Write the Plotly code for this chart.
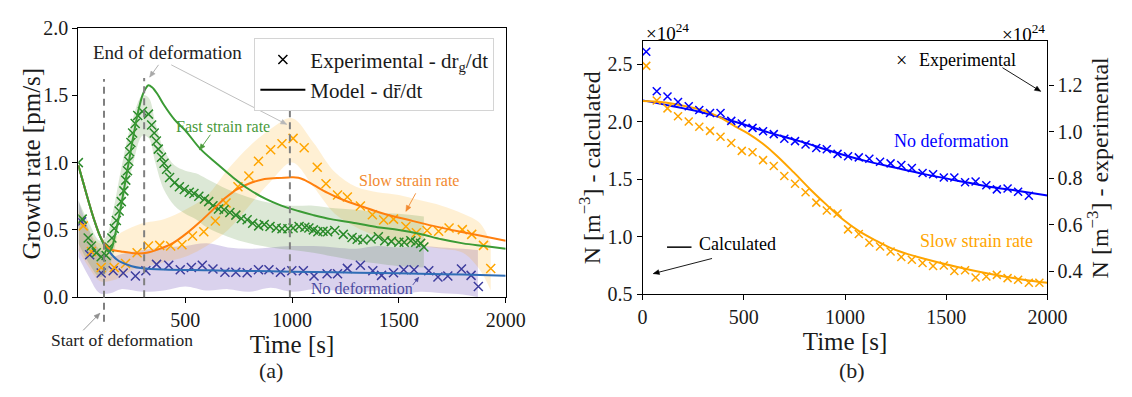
import math
import plotly.graph_objects as go

W, H = 1132, 397
FONT = "Liberation Serif"

# ------------------------- (a) growth rate -------------------------
fast_exp_t = [0, 18, 46, 61, 84, 107, 130, 145, 157, 168, 178, 191, 201, 213, 222, 230, 236, 240,
              246, 254, 266, 278, 300, 328, 343, 355, 365, 374, 389, 401, 413, 427, 450, 473, 496,
              519, 541, 564, 590, 610, 630, 656, 682, 709, 737, 763, 790, 816, 844, 870, 897, 926,
              953, 981, 1005, 1033, 1060, 1079, 1100, 1121, 1145, 1167, 1200, 1240, 1281, 1305,
              1332, 1370, 1404, 1434, 1465, 1500, 1525, 1556, 1579, 1602, 1617]
fast_exp_v = [1.00, 0.58, 0.44, 0.38, 0.33, 0.30, 0.31, 0.37, 0.44, 0.51, 0.57, 0.64, 0.71, 0.79,
              0.87, 0.94, 1.01, 1.08, 1.15, 1.22, 1.29, 1.35, 1.38, 1.36, 1.28, 1.22, 1.16, 1.10,
              1.04, 0.995, 0.95, 0.89, 0.85, 0.82, 0.80, 0.78, 0.77, 0.75, 0.73, 0.71, 0.68, 0.655,
              0.65, 0.63, 0.61, 0.585, 0.575, 0.55, 0.53, 0.54, 0.526, 0.514, 0.509, 0.509, 0.514,
              0.526, 0.52, 0.514, 0.50, 0.486, 0.49, 0.486, 0.495, 0.467, 0.444, 0.43, 0.425, 0.432,
              0.449, 0.42, 0.415, 0.408, 0.408, 0.42, 0.408, 0.40, 0.373]

slow_exp_t = [23, 61, 107, 168, 221, 275, 328, 381, 432, 485, 534, 587, 641, 691, 747, 798, 843,
              900, 953, 1005, 1057, 1118, 1159, 1213, 1259, 1320, 1376, 1429, 1475, 1533, 1582,
              1632, 1686, 1735, 1797, 1841, 1896, 1930]
slow_exp_v = [0.53, 0.34, 0.22, 0.22, 0.25, 0.33, 0.38, 0.385, 0.38, 0.39, 0.455, 0.486, 0.566,
              0.70, 0.82, 0.90, 1.01, 1.096, 1.14, 1.18, 1.11, 0.965, 0.843, 0.76, 0.744, 0.678,
              0.613, 0.573, 0.58, 0.526, 0.479, 0.495, 0.49, 0.514, 0.502, 0.467, 0.385, 0.213]

nodef_exp_t = [15, 53, 107, 163, 210, 267, 316, 366, 423, 477, 529, 580, 630, 686, 737, 790, 843,
               892, 946, 999, 1053, 1103, 1164, 1213, 1259, 1320, 1378, 1419, 1475, 1523, 1571,
               1640, 1683, 1729, 1793, 1838, 1872]
nodef_exp_v = [0.56, 0.315, 0.18, 0.197, 0.18, 0.157, 0.197, 0.244, 0.237, 0.204, 0.22, 0.237,
               0.209, 0.185, 0.185, 0.181, 0.204, 0.204, 0.185, 0.197, 0.197, 0.157, 0.174, 0.174,
               0.214, 0.237, 0.197, 0.162, 0.181, 0.204, 0.204, 0.197, 0.15, 0.157, 0.209, 0.162,
               0.08]

fast_mod_t = [0, 25, 50, 75, 100, 120, 140, 155, 170, 185, 200, 220, 240, 260, 280, 300, 315, 328,
              345, 370, 400, 450, 500, 572, 650, 724, 800, 877, 950, 1030, 1100, 1182, 1300, 1400,
              1500, 1600, 1700, 1800, 1900, 2000]
fast_mod_v = [0.98, 0.84, 0.70, 0.57, 0.46, 0.39, 0.34, 0.36, 0.45, 0.56, 0.68, 0.86, 1.04, 1.22,
              1.38, 1.50, 1.55, 1.575, 1.56, 1.51, 1.43, 1.32, 1.24, 1.10, 0.99, 0.89, 0.80, 0.73,
              0.68, 0.64, 0.61, 0.58, 0.55, 0.52, 0.50, 0.47, 0.43, 0.40, 0.38, 0.36]

slow_mod_t = [0, 25, 50, 75, 100, 125, 150, 200, 267, 320, 374, 440, 511, 570, 633, 690, 740, 800,
              862, 930, 984, 1030, 1060, 1100, 1167, 1243, 1320, 1430, 1548, 1660, 1777, 1890, 2000]
slow_mod_v = [0.98, 0.84, 0.70, 0.57, 0.46, 0.39, 0.355, 0.34, 0.326, 0.33, 0.355, 0.40, 0.48,
              0.56, 0.655, 0.74, 0.80, 0.845, 0.875, 0.885, 0.89, 0.888, 0.87, 0.835, 0.775, 0.72,
              0.678, 0.62, 0.573, 0.53, 0.49, 0.455, 0.42]

nodef_mod_t = [0, 25, 50, 75, 100, 120, 140, 160, 180, 200, 250, 300, 400, 600, 800, 1000, 1200,
               1400, 1600, 1800, 2000]
nodef_mod_v = [0.98, 0.84, 0.70, 0.57, 0.46, 0.40, 0.35, 0.31, 0.28, 0.26, 0.23, 0.215, 0.205,
               0.20, 0.195, 0.19, 0.185, 0.18, 0.175, 0.168, 0.16]

fast_band_t = [0, 50, 100, 130, 160, 200, 250, 300, 330, 360, 400, 450, 500, 550, 600, 700, 800,
               900, 1000, 1100, 1200, 1300, 1400, 1500, 1617]
fast_band_hi = [0.72, 0.55, 0.42, 0.45, 0.62, 0.95, 1.30, 1.50, 1.48, 1.30, 1.10, 0.98, 0.94,
                0.92, 0.88, 0.80, 0.74, 0.70, 0.68, 0.68, 0.66, 0.65, 0.63, 0.62, 0.60]
fast_band_lo = [0.40, 0.25, 0.15, 0.18, 0.30, 0.62, 0.95, 1.20, 1.18, 1.00, 0.80, 0.68, 0.62,
                0.58, 0.52, 0.45, 0.40, 0.37, 0.35, 0.33, 0.30, 0.27, 0.25, 0.23, 0.22]

slow_band_t = [0, 50, 100, 150, 200, 250, 300, 400, 500, 600, 700, 800, 900, 1000, 1100, 1200,
               1300, 1400, 1500, 1600, 1700, 1800, 1880, 1930]
slow_band_hi = [0.65, 0.50, 0.40, 0.42, 0.48, 0.52, 0.55, 0.58, 0.65, 0.75, 0.95, 1.12, 1.25,
                1.33, 1.15, 0.93, 0.82, 0.78, 0.76, 0.72, 0.68, 0.62, 0.55, 0.40]
slow_band_lo = [0.35, 0.22, 0.12, 0.12, 0.15, 0.20, 0.22, 0.26, 0.30, 0.38, 0.50, 0.68, 0.86,
                1.00, 0.82, 0.62, 0.52, 0.45, 0.40, 0.38, 0.36, 0.33, 0.20, 0.05]

nodef_band_t = [0, 50, 100, 150, 200, 300, 400, 500, 600, 700, 800, 900, 1000, 1100, 1200, 1300,
                1400, 1500, 1600, 1700, 1800, 1870]
nodef_band_hi = [0.72, 0.50, 0.35, 0.30, 0.32, 0.35, 0.37, 0.38, 0.40, 0.37, 0.36, 0.37, 0.38,
                 0.38, 0.37, 0.36, 0.38, 0.37, 0.38, 0.37, 0.36, 0.35]
nodef_band_lo = [0.30, 0.15, 0.03, 0.03, 0.06, 0.04, 0.05, 0.08, 0.05, 0.06, 0.04, 0.07, 0.04,
                 0.06, 0.05, 0.03, 0.05, 0.02, 0.04, 0.03, 0.02, 0.0]

deform_marks_t = [120, 308, 990]

a_xticks = [500, 1000, 1500, 2000]
a_yticks = [0.0, 0.5, 1.0, 1.5, 2.0]

# ------------------------- (b) number density -------------------------
b_exp_t = [18, 70, 123, 175, 228, 280, 333, 385, 438, 490, 543, 595, 648, 700, 753, 805, 858,
           910, 963, 1015, 1068, 1120, 1173, 1225, 1278, 1330, 1383, 1435, 1488, 1540, 1593,
           1645, 1698, 1750, 1803, 1855, 1908, 1960]
b_nodef_exp = [1.345, 1.175, 1.152, 1.128, 1.110, 1.094, 1.081, 1.081, 1.047, 1.036, 1.017,
               1.002, 0.990, 0.970, 0.960, 0.945, 0.930, 0.925, 0.905, 0.895, 0.890, 0.884,
               0.871, 0.864, 0.857, 0.844, 0.823, 0.817, 0.803, 0.803, 0.783, 0.786, 0.770,
               0.752, 0.756, 0.742, 0.725]
b_slow_exp = [1.284, 1.135, 1.101, 1.067, 1.044, 1.022, 1.004, 0.979, 0.952, 0.918, 0.912,
              0.878, 0.853, 0.810, 0.776, 0.740, 0.695, 0.661, 0.648, 0.580, 0.560, 0.522,
              0.506, 0.485, 0.461, 0.449, 0.435, 0.422, 0.424, 0.401, 0.404, 0.373, 0.377,
              0.384, 0.370, 0.363, 0.350, 0.350]

b_nodef_calc_t = [0, 135, 296, 457, 618, 779, 940, 1101, 1250, 1391, 1550, 1700, 1850, 2000]
b_nodef_calc = [2.186, 2.14, 2.08, 2.00, 1.91, 1.83, 1.74, 1.66, 1.60, 1.545, 1.49, 1.44, 1.40,
                1.36]
b_slow_calc_t = [0, 100, 200, 296, 380, 457, 520, 586, 660, 747, 830, 908, 990, 1069, 1150, 1230,
                 1310, 1391, 1550, 1713, 1874, 2000]
b_slow_calc = [2.18, 2.17, 2.14, 2.10, 2.04, 1.96, 1.90, 1.82, 1.71, 1.56, 1.41, 1.28, 1.15,
               1.05, 0.97, 0.90, 0.85, 0.81, 0.74, 0.68, 0.63, 0.60]

b_xticks = [0, 500, 1000, 1500, 2000]
b_yticks_calc = [0.5, 1.0, 1.5, 2.0, 2.5]
b_yticks_exp = [0.4, 0.6, 0.8, 1.0, 1.2]

# ------------------------- colours -------------------------
C_FAST_X, C_FAST_L, C_FAST_B = "#2a8a2a", "#3b9b35", "rgba(80,140,50,0.20)"
C_SLOW_X, C_SLOW_L, C_SLOW_B = "#ffa500", "#ff7f0e", "rgba(255,165,0,0.17)"
C_NODEF_X, C_NODEF_L, C_NODEF_B = "#3d3d9e", "#2f6db5", "rgba(120,90,190,0.27)"


def px(x, y):
    return x / W, 1 - y / H


fig = go.Figure()


def band(t, lo, hi, color, xa, ya):
    fig.add_trace(go.Scatter(x=t, y=lo, mode="lines", line=dict(width=0, shape="spline"),
                             showlegend=False, hoverinfo="skip", xaxis=xa, yaxis=ya))
    fig.add_trace(go.Scatter(x=t, y=hi, mode="lines", line=dict(width=0, shape="spline"),
                             fill="tonexty", fillcolor=color, showlegend=False,
                             hoverinfo="skip", xaxis=xa, yaxis=ya))


def crosses(t, v, color, xa, ya, size=9):
    fig.add_trace(go.Scatter(x=t, y=v, mode="markers", showlegend=False, xaxis=xa, yaxis=ya,
                             marker=dict(symbol="x-thin", size=size, color=color,
                                         line=dict(color=color, width=1.5))))


def line(t, v, color, xa, ya, width=2):
    fig.add_trace(go.Scatter(x=t, y=v, mode="lines", showlegend=False, xaxis=xa, yaxis=ya,
                             line=dict(color=color, width=width, shape="spline")))


# (a)
band(nodef_band_t, nodef_band_lo, nodef_band_hi, C_NODEF_B, "x", "y")
band(slow_band_t, slow_band_lo, slow_band_hi, C_SLOW_B, "x", "y")
band(fast_band_t, fast_band_lo, fast_band_hi, C_FAST_B, "x", "y")
crosses(nodef_exp_t, nodef_exp_v, C_NODEF_X, "x", "y")
crosses(slow_exp_t, slow_exp_v, C_SLOW_X, "x", "y")
crosses(fast_exp_t, fast_exp_v, C_FAST_X, "x", "y")
line(nodef_mod_t, nodef_mod_v, C_NODEF_L, "x", "y")
line(slow_mod_t, slow_mod_v, C_SLOW_L, "x", "y")
line(fast_mod_t, fast_mod_v, C_FAST_L, "x", "y")

# legend entries (a)
fig.add_trace(go.Scatter(x=[None], y=[None], mode="markers", xaxis="x", yaxis="y",
                         name="Experimental - dr<sub>g</sub>/dt",
                         marker=dict(symbol="x-thin", size=9, color="black",
                                     line=dict(color="black", width=1.5))))
fig.add_trace(go.Scatter(x=[None], y=[None], mode="lines", xaxis="x", yaxis="y",
                         name="Model - dr\u0304/dt", line=dict(color="black", width=2)))

# (b)
line(b_nodef_calc_t, b_nodef_calc, "#0000ff", "x2", "y2")
line(b_slow_calc_t, b_slow_calc, "#ffa500", "x2", "y2")
crosses(b_exp_t[:len(b_nodef_exp)], b_nodef_exp, "#0000ff", "x2", "y3", size=8)
crosses(b_exp_t[:len(b_slow_exp)], b_slow_exp, "#ffa500", "x2", "y3", size=8)

# dashed deformation markers
shapes = []
dash_tops = [72, 71, 101]
dash_bottoms = [329, 303, 303]
for t, top, bot in zip(deform_marks_t, dash_tops, dash_bottoms):
    shapes.append(dict(type="line", xref="x", yref="paper", x0=t, x1=t,
                       y0=1 - bot / H, y1=1 - top / H,
                       line=dict(color="#808080", width=2, dash="7px,5px")))
# "Calculated" line sample
x0, y0 = px(677, 250)
x1, _ = px(702, 250)
shapes.append(dict(type="line", xref="paper", yref="paper", x0=x0, x1=x1, y0=y0, y1=y0,
                   line=dict(color="black", width=1.5)))


def arrow(tail, head, color, width=0.9, hl=6.0, hw=2.6):
    tx, ty = px(*tail)
    hx, hy = px(*head)
    shapes.append(dict(type="line", xref="paper", yref="paper", x0=tx, y0=ty, x1=hx, y1=hy,
                       line=dict(color=color, width=width)))
    dx, dy = head[0] - tail[0], head[1] - tail[1]
    d = math.hypot(dx, dy)
    ux, uy = dx / d, dy / d
    bx, by = head[0] - ux * hl, head[1] - uy * hl
    p1 = px(bx - uy * hw, by + ux * hw)
    p2 = px(bx + uy * hw, by - ux * hw)
    path = "M {:.5f},{:.5f} L {:.5f},{:.5f} L {:.5f},{:.5f} Z".format(hx, hy, p1[0], p1[1],
                                                                   p2[0], p2[1])
    shapes.append(dict(type="path", xref="paper", yref="paper", path=path, fillcolor=color,
                       line=dict(color=color, width=0.5)))


ann = []


def text(s, x, y, size, color="black", xanchor="center", angle=0):
    xx, yy = px(x, y)
    ann.append(dict(text=s, x=xx, y=yy, xref="paper", yref="paper", showarrow=False,
                    xanchor=xanchor, yanchor="middle", textangle=angle,
                    font=dict(family=FONT, size=size, color=color)))


text("Growth rate [pm/s]", 27, 161, 25, "#1a1a1a", angle=-90)
text("End of deformation", 166, 44, 19, "#222")
arrow((157, 57), (148, 70), "#a8a8a8")
arrow((170, 57), (288, 120), "#b8b8b8")
text("Start of deformation", 120, 348, 17.5, "#222")
arrow((80, 338), (97, 320), "#909090")
text("Fast strain rate", 223, 122, 16, "#4a9a3a")
arrow((210, 131), (199, 147), "#4a9a3a")
text("Slow strain rate", 413, 179, 16, "#f28a30")
arrow((420, 193), (410, 212), "#f28a30")
text("No deformation", 365, 294, 16, "#4a4aa0")
arrow((417, 290), (423, 282), "#4a4aa0", hl=4.5, hw=2.0)
text("(a)", 272, 381, 22, "#222")

text("\u00d7", 917, 52, 20)
text("Experimental", 933, 52, 18, xanchor="left")
arrow((1020, 60), (1059, 85), "black")
text("Calculated", 708, 247, 18, xanchor="left")
arrow((723, 262), (663, 278), "black")
text("No deformation", 967, 138, 18, "#0000ff")
text("Slow strain rate", 993, 243, 18, "#ffa500")
text("\u00d710<sup>24</sup>", 677, 22, 19)
text("\u00d710<sup>24</sup>", 1042, 23, 19)
text("(b)", 866, 381, 22, "#222")

axis_common = dict(showline=True, linecolor="black", linewidth=1.2, ticks="outside",
                   ticklen=5, tickwidth=1.2, tickcolor="black", showgrid=False, zeroline=False,
                   tickfont=dict(family=FONT, size=20, color="#1a1a1a"))

fig.update_layout(
    width=W, height=H, margin=dict(l=0, r=0, t=0, b=0),
    paper_bgcolor="white", plot_bgcolor="white",
    font=dict(family=FONT, color="#1a1a1a"),
    shapes=shapes, annotations=ann,
    showlegend=True,
    legend=dict(x=255 / W, y=1 - 29 / H, xanchor="left", yanchor="top", xref="paper",
                yref="paper", bgcolor="white", bordercolor="#d4d4d4", borderwidth=1,
                traceorder="normal", tracegroupgap=0,
                font=dict(family=FONT, size=21, color="#1a1a1a"), itemwidth=45),
    xaxis=dict(domain=[75 / W, 512 / W], range=[0, 2000], tickvals=a_xticks, mirror=True,
               anchor="y", title=dict(text="Time [s]", font=dict(family=FONT, size=25),
                                      standoff=0), **axis_common),
    yaxis=dict(domain=[1 - 303 / H, 1 - 18 / H], range=[0, 2.0], tickvals=a_yticks,
               tickformat=".1f", mirror=True, anchor="x", **axis_common),
    xaxis2=dict(domain=[652 / W, 1066 / W], range=[0, 2000], tickvals=b_xticks, mirror=True,
                anchor="y2", title=dict(text="Time [s]", font=dict(family=FONT, size=25),
                                        standoff=0), **axis_common),
    yaxis2=dict(domain=[1 - 300 / H, 1 - 32 / H], range=[0.5, 2.7], tickvals=b_yticks_calc,
                tickformat=".1f", anchor="x2",
                title=dict(text="N [m<sup>\u22123</sup>] - calculated",
                           font=dict(family=FONT, size=24), standoff=0), **axis_common),
    yaxis3=dict(range=[0.3, 1.39], tickvals=b_yticks_exp, tickformat=".1f", overlaying="y2",
                side="right", anchor="x2",
                title=dict(text="N [m<sup>\u22123</sup>] - experimental",
                           font=dict(family=FONT, size=24), standoff=0), **axis_common),
)

fig.write_html("out.html")
